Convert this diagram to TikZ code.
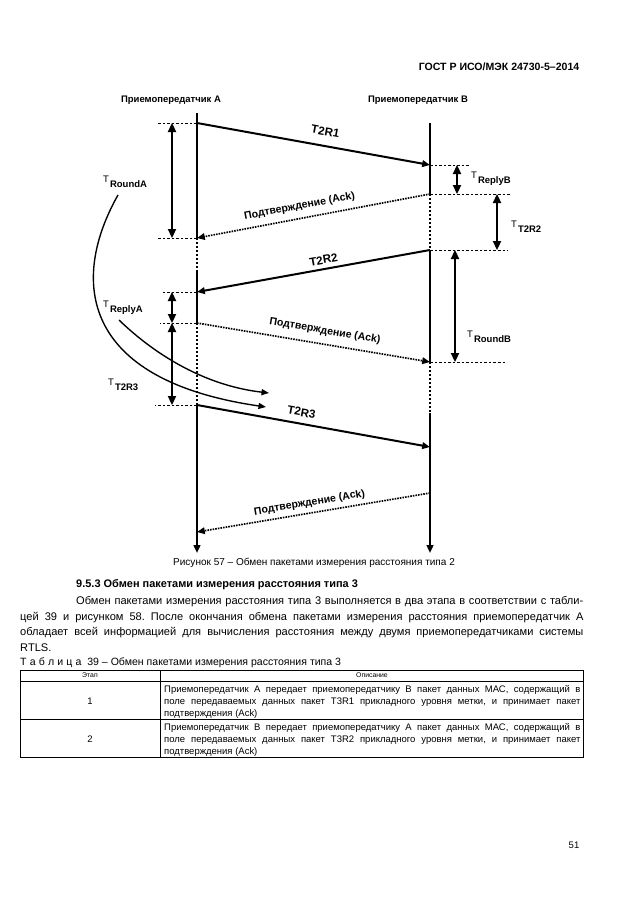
\documentclass[tikz,border=0pt]{standalone}
\usepackage{fontspec}
\setmainfont{Liberation Sans}
\usetikzlibrary{positioning,arrows.meta}
\frenchspacing

\newcommand{\Tlab}[1]{T\kern1pt\raisebox{-5.5pt}{\bfseries\fontsize{9}{10}\selectfont #1}}
\newcommand{\jline}[2]{\makebox[#1][s]{#2}}

\begin{document}
\begin{tikzpicture}[
    x=0.3333mm, y=-0.3333mm,
    endtip/.style={-{Triangle[length=2.6mm,width=2.2mm]}},
    lifeline/.style={line width=1.8pt},
    lifegap/.style={line width=1.4pt, dash pattern=on 2.2pt off 1.6pt},
    msgline/.style={line width=1.9pt, endtip},
    ackline/.style={line width=1.6pt, dash pattern=on 1.5pt off 1pt, endtip},
    tickline/.style={line width=0.9pt, dash pattern=on 2.4pt off 1.9pt},
    spanarr/.style={line width=1.8pt,
                    {Triangle[length=3mm,width=2.7mm]}-{Triangle[length=3mm,width=2.7mm]}},
    curvearr/.style={line width=1.3pt, -{Triangle[length=2.5mm,width=2mm]}},
    mlab/.style={font=\bfseries\fontsize{11}{13}\selectfont, inner sep=0pt, sloped},
    alab/.style={font=\bfseries\fontsize{10}{12}\selectfont, inner sep=0pt, sloped},
    tlab/.style={anchor=base west, inner sep=0pt, font=\fontsize{9}{10}\selectfont},
    actor/.style={font=\bfseries\fontsize{9}{11}\selectfont, inner sep=0pt},
    bodytxt/.style={anchor=base west, inner sep=0pt, font=\fontsize{10.5}{12}\selectfont},
    celltxt/.style={anchor=base west, inner sep=0pt, font=\fontsize{9}{11}\selectfont},
    tabrule/.style={line width=0.6pt}
]
\path[use as bounding box, fill=white] (0,0) rectangle (630,913);

% page header
\node[anchor=east, font=\bfseries\fontsize{10}{12}\selectfont] (gost) at (583,67) {ГОСТ Р ИСО/МЭК 24730-5–2014};

% transceivers
\node[actor] (trA) at (171,100) {Приемопередатчик А};
\node[actor] (trB) at (418,100) {Приемопередатчик В};

% events on lifeline A
\coordinate (aTop) at (197,113);
\coordinate (a1) at (197,123);
\coordinate (a2) at (197,238);
\coordinate (a3) at (197,272);
\coordinate (a4) at (197,292);
\coordinate (a5) at (197,323);
\coordinate (a6) at (197,405);
\coordinate (a7) at (197,532);
\coordinate (aEnd) at (197,553);
% events on lifeline B
\coordinate (bTop) at (430,123);
\coordinate (b1) at (430,165);
\coordinate (b2) at (430,194);
\coordinate (b3) at (430,250);
\coordinate (b4) at (430,362);
\coordinate (b5) at (430,413);
\coordinate (b6) at (430,447);
\coordinate (b7) at (430,493);
\coordinate (bEnd) at (430,553);

% lifelines
\draw[lifeline] (aTop) -- (a2);
\draw[lifegap] (a2) -- (a3);
\draw[lifeline] (a3) -- (a5);
\draw[lifegap] (a5) -- (a6);
\draw[lifeline, endtip] (a6) -- (aEnd);
\draw[lifeline] (bTop) -- (b2);
\draw[lifegap] (b2) -- (b3);
\draw[lifeline] (b3) -- (b4);
\draw[lifegap] (b4) -- (b5);
\draw[lifeline, endtip] (b5) -- (bEnd);

% messages
\draw[msgline] (a1) -- node[mlab, pos=0.54, above=9pt] (lT2R1) {T2R1} (b1);
\draw[ackline] (b2) -- node[alab, pos=0.55, above=6pt] (lAck1) {Подтверждение (Ack)} (a2);
\draw[msgline] (b3) -- node[mlab, pos=0.45, above=4pt] (lT2R2) {T2R2} (a4);
\draw[ackline] (a5) -- node[alab, pos=0.54, above=7pt] (lAck2) {Подтверждение (Ack)} (b4);
\draw[msgline] (a6) -- node[mlab, pos=0.44, above=6pt] (lT2R3) {T2R3} (b6);
\draw[ackline] (b7) -- node[alab, pos=0.51, above=4pt] (lAck3) {Подтверждение (Ack)} (a7);

% dashed marks
\draw[tickline] (a1) -- ++(-40,0);
\draw[tickline] (a2) -- ++(-40,0);
\draw[tickline] (a4) -- ++(-35,0);
\draw[tickline] (a5) -- ++(-37,0);
\draw[tickline] (a6) -- ++(-42,0);
\draw[tickline] (b1) -- ++(40,0);
\draw[tickline] (b2) -- ++(80,0);
\draw[tickline] (b3) -- ++(78,0);
\draw[tickline] (b4) -- ++(77,0);

% intervals
\coordinate (sA) at (172,0);
\coordinate (sB1) at (457,0);
\coordinate (sB2) at (497,0);
\coordinate (sB3) at (455,0);
\draw[spanarr] (a1 -| sA) -- (a2 -| sA);
\draw[spanarr] (a4 -| sA) -- (a5 -| sA);
\draw[spanarr] (a5 -| sA) -- (a6 -| sA);
\draw[spanarr] (b1 -| sB1) -- (b2 -| sB1);
\draw[spanarr] (b2 -| sB2) -- (b3 -| sB2);
\draw[spanarr] (b3 -| sB3) -- (b4 -| sB3);

\node[tlab] (lRoundA) at (103,182) {\Tlab{RoundA}};
\node[tlab] (lReplyA) at (103,307) {\Tlab{ReplyA}};
\node[tlab] (lT2R3A) at (108,385) {\Tlab{T2R3}};
\node[tlab] (lReplyB) at (471,178) {\Tlab{ReplyB}};
\node[tlab] (lT2R2B) at (511,227) {\Tlab{T2R2}};
\node[tlab] (lRoundB) at (467,337) {\Tlab{RoundB}};

% curved pointers
\coordinate (cR0) at (118,195);
\coordinate (cR1) at (266,407);
\coordinate (cP0) at (119,320);
\coordinate (cP1) at (269,393);
\draw[curvearr] (cR0) .. controls (70,280) and (80,380) .. (cR1);
\draw[curvearr] (cP0) .. controls (150,350) and (200,385) .. (cP1);

% caption
\node[font=\fontsize{9.5}{11}\selectfont] (cap57) at (314,563) {Рисунок 57 – Обмен пакетами измерения расстояния типа 2};

% section text
\node[anchor=base west, inner sep=0pt, font=\bfseries\fontsize{10.4}{12}\selectfont] (sec) at (76,587) {9.5.3 Обмен пакетами измерения расстояния типа 3};
\node[bodytxt] (p1) at (76,604.5) {\jline{169mm}{Обмен пакетами измерения расстояния типа 3 выполняется в два этапа в соответствии с табли-}};
\node[bodytxt] (p2) at (20,620) {\jline{187.7mm}{цей 39 и рисунком 58. После окончания обмена пакетами измерения расстояния приемопередатчик А}};
\node[bodytxt] (p3) at (20,635.5) {\jline{187.7mm}{обладает всей информацией для вычисления расстояния между двумя приемопередатчиками системы}};
\node[bodytxt] (p4) at (20,651) {RTLS.};

% table
\node[anchor=base west, inner sep=0pt, font=\fontsize{10}{11}\selectfont] (tcap) at (20,665) {Т\kern3pt а\kern3pt б\kern3pt л\kern3pt и\kern3pt ц\kern3pt а\ \ 39 – Обмен пакетами измерения расстояния типа 3};
\draw[tabrule] (20,670) rectangle (583,757);
\draw[tabrule] (20,681) -- (583,681);
\draw[tabrule] (20,719) -- (583,719);
\draw[tabrule] (160,670) -- (160,757);
\node[font=\fontsize{6.5}{8}\selectfont] (hStage) at (90,675.5) {Этап};
\node[font=\fontsize{6.5}{8}\selectfont] (hDesc) at (372,675.5) {Описание};
\node[font=\fontsize{9}{11}\selectfont] (n1) at (90,701) {1};
\node[font=\fontsize{9}{11}\selectfont] (n2) at (90,739) {2};
\node[celltxt] (r1a) at (164,692) {\jline{138.7mm}{Приемопередатчик А передает приемопередатчику В пакет данных МАС, содержащий в}};
\node[celltxt] (r1b) at (164,704) {\jline{138.7mm}{поле передаваемых данных пакет T3R1 прикладного уровня метки, и принимает пакет}};
\node[celltxt] (r1c) at (164,716) {подтверждения (Ack)};
\node[celltxt] (r2a) at (164,730) {\jline{138.7mm}{Приемопередатчик В передает приемопередатчику А пакет данных МАС, содержащий в}};
\node[celltxt] (r2b) at (164,742) {\jline{138.7mm}{поле передаваемых данных пакет T3R2 прикладного уровня метки, и принимает пакет}};
\node[celltxt] (r2c) at (164,754) {подтверждения (Ack)};

% page number
\node[font=\fontsize{9}{11}\selectfont] (pgno) at (574,845) {51};
\end{tikzpicture}
\end{document}
